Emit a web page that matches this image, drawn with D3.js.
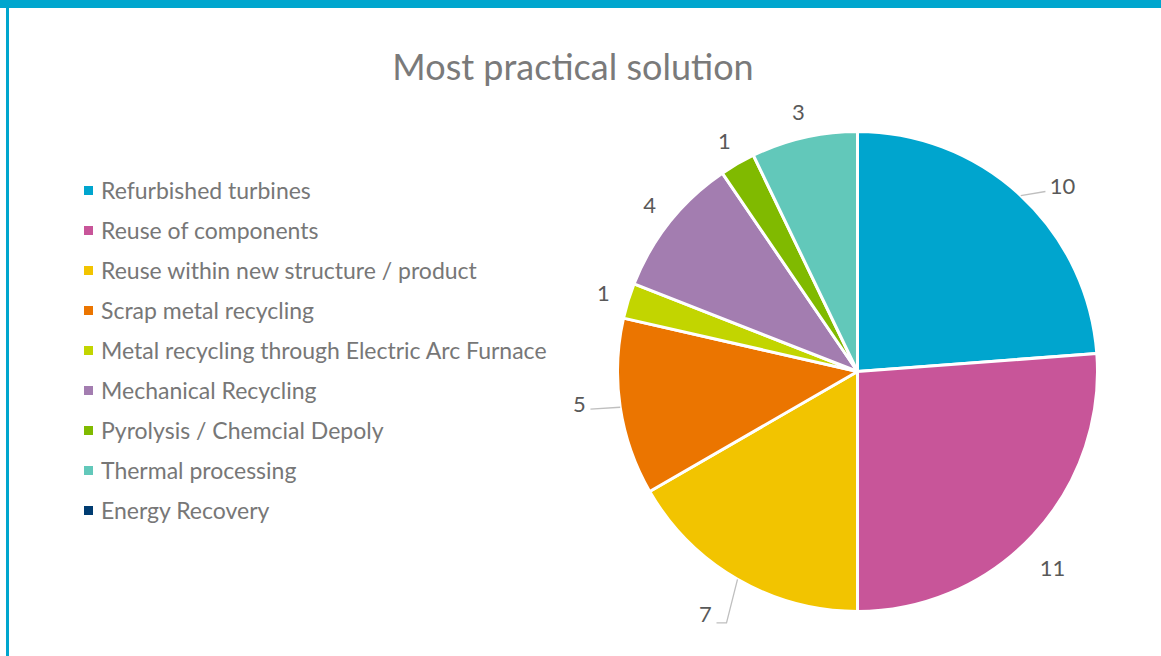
<!DOCTYPE html>
<html>
<head>
<meta charset="utf-8">
<script src="https://cdn.jsdelivr.net/npm/d3@7/dist/d3.min.js"></script>
<style>
  html, body { margin: 0; padding: 0; background: #fff; }
  svg { display: block; }
</style>
</head>
<body>
<svg id="chart" width="1161" height="656"></svg>
<script>
// Survey answers: which end-of-life route is the most practical
const categories = [
  "Refurbished turbines",
  "Reuse of components",
  "Reuse within new structure / product",
  "Scrap metal recycling",
  "Metal recycling through Electric Arc Furnace",
  "Mechanical Recycling",
  "Pyrolysis / Chemcial Depoly",
  "Thermal processing",
  "Energy Recovery"
];
const votes = [10, 11, 7, 5, 1, 4, 1, 3, 0];
const sliceColors = [
  "#00A5CE", "#C85599", "#F2C400", "#EB7500", "#C2D500",
  "#A37DB0", "#80BA00", "#62C8BA", "#003C71"
];
const title = "Most practical solution";

const W = 1161, H = 656;
const svg = d3.select("#chart");
const font = "Lato, 'Open Sans', sans-serif";

// Frame: thick band on top, thin rule down the left edge
svg.append("rect").attr("x", 0).attr("y", 0).attr("width", W).attr("height", 8).attr("fill", "#00A6CE");
svg.append("rect").attr("x", 6).attr("y", 0).attr("width", 3).attr("height", H).attr("fill", "#00A6CE");

// Title
svg.append("text")
  .attr("x", 573).attr("y", 80)
  .attr("text-anchor", "middle")
  .attr("font-family", font)
  .attr("font-size", 36)
  .attr("fill", "#7a7a7a")
  .text(title);

// Legend
const legend = svg.append("g").attr("transform", "translate(84,191)");
const rows = legend.selectAll("g").data(categories).join("g")
  .attr("transform", (d, i) => `translate(0,${i * 40})`);
rows.append("rect")
  .attr("x", 0).attr("y", -5).attr("width", 9).attr("height", 9)
  .attr("fill", (d, i) => sliceColors[i]);
rows.append("text")
  .attr("x", 17).attr("y", 0).attr("dy", "0.35em")
  .attr("font-family", font).attr("font-size", 23)
  .attr("fill", "#777")
  .text(d => d);

// Pie
const cx = 857.5, cy = 371.5, R = 240;
const pie = d3.pie().value(d => d.v).sort(null);
const arc = d3.arc().innerRadius(0).outerRadius(R);
const data = categories.map((c, i) => ({ c, v: votes[i], i }));
const arcs = pie(data);

const g = svg.append("g").attr("transform", `translate(${cx},${cy})`);
g.selectAll("path").data(arcs.filter(a => a.data.v > 0)).join("path")
  .attr("d", arc)
  .attr("fill", d => sliceColors[d.data.i])
  .attr("stroke", "#fff")
  .attr("stroke-width", 3)
  .attr("stroke-linejoin", "round");

// Data labels just outside each slice; a few are pushed out with leader lines
const labelR = R + 26;
const pushed = {
  "Refurbished turbines": { dx: 24, dy: 10, leader: true },
  "Reuse of components": { dx: 0, dy: 16 },
  "Scrap metal recycling": { dx: -15, dy: -7, leader: true },
  "Reuse within new structure / product": { dx: -19, dy: 12, leader: true }
};
const labels = svg.append("g");
arcs.filter(a => a.data.v > 0).forEach(a => {
  const mid = (a.startAngle + a.endAngle) / 2;
  const p = pushed[a.data.c] || { dx: 0, dy: 0 };
  const lx = cx + labelR * Math.sin(mid) + p.dx;
  const ly = cy - labelR * Math.cos(mid) + p.dy;
  if (p.leader) {
    const ex = cx + R * Math.sin(mid), ey = cy - R * Math.cos(mid);
    const left = Math.sin(mid) < 0;
    const tx = left ? lx + 11 : lx - 17;
    const ty = ly + (Math.cos(mid) < -0.5 ? 9 : 5);
    labels.append("path")
      .attr("d", `M${ex},${ey}` + (Math.cos(mid) < -0.5 ? `L${tx + 10},${ty}L${tx},${ty}` : `L${tx},${ty}`))
      .attr("fill", "none").attr("stroke", "#bfbfbf").attr("stroke-width", 1.3);
  }
  labels.append("text")
    .attr("x", lx).attr("y", ly).attr("dy", "0.35em")
    .attr("text-anchor", "middle")
    .attr("font-family", font).attr("font-size", 22)
    .attr("fill", "#595959")
    .text(a.data.v);
});
</script>
</body>
</html>
